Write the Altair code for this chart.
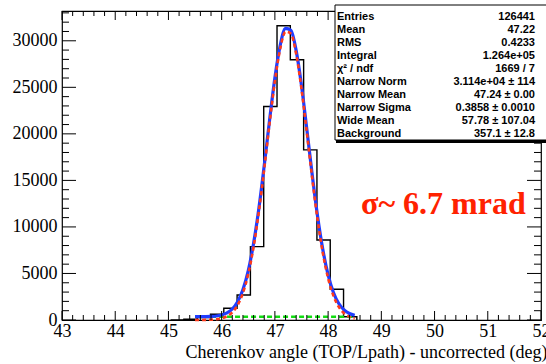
import altair as alt
import pandas as pd

# ---------------- data ----------------
hist_edges = [45.04, 45.29, 45.54, 45.79, 46.04, 46.29, 46.54, 46.79, 47.04,
              47.29, 47.54, 47.79, 48.04, 48.29, 48.54]
hist_counts = [0, 80, 250, 610, 1260, 2690, 7880, 22940, 31610,
               27960, 18280, 8600, 3300, 350, 0]

fit_x = [45.5, 45.6, 45.7, 45.8, 45.9, 46.0, 46.1, 46.2, 46.3, 46.4, 46.5,
         46.6, 46.7, 46.8, 46.9, 47.0, 47.1, 47.2, 47.3, 47.4, 47.5, 47.6,
         47.7, 47.8, 47.9, 48.0, 48.1, 48.2, 48.3, 48.4, 48.5]
fit_total = [360, 365, 370, 390, 430, 540, 760, 1180, 1960, 3270, 5310,
             8240, 12040, 16610, 21480, 26030, 29510, 31330, 31130, 28940, 25180,
             20510, 15660, 11230, 7590, 4840, 2960, 1770, 1080, 700, 510]
fit_narrow = [0, 5, 10, 30, 75, 180, 400, 820, 1600, 2910, 4950,
              7880, 11680, 16250, 21120, 25670, 29150, 30970, 30770, 28580, 24820,
              20150, 15300, 10870, 7230, 4480, 2600, 1410, 720, 340, 150]
bg_x = [45.5, 48.5]
bg_y = [357, 357]

x_major = [43, 44, 45, 46, 47, 48, 49, 50, 51, 52]
x_minor = [round(43 + 0.2 * i, 1) for i in range(46) if i % 5 != 0]
y_major = [0, 5000, 10000, 15000, 20000, 25000, 30000]
y_minor = [v for v in range(0, 34000, 1000) if v % 5000 != 0]

stat_labels = ["Entries", "Mean", "RMS", "Integral", "χ² / ndf", "Narrow Norm",
               "Narrow Mean", "Narrow Sigma", "Wide Mean", "Background"]
stat_values = ["126441", "47.22", "0.4233", "1.264e+05", "1669 / 7",
               "3.114e+04 ± 114", "47.24 ± 0.00", "0.3858 ± 0.0010",
               "57.78 ± 107.04", "357.1 ± 12.8"]

x_title = "Cherenkov angle (TOP/Lpath) - uncorrected (deg)"
note_text = "σ~ 6.7 mrad"

# ---------------- chart ----------------
W, H = 479, 309
xs = alt.Scale(domain=[43, 52], nice=False, zero=False)
ys = alt.Scale(domain=[0, 33200], nice=False, zero=False)

hist_df = pd.DataFrame({"x": hist_edges, "y": hist_counts})
fit_df = pd.DataFrame({"x": fit_x, "total": fit_total, "narrow": fit_narrow})
bg_df = pd.DataFrame({"x": bg_x, "y": bg_y})

xaxis = alt.Axis(values=x_major, ticks=False, domain=False, grid=False, format="d",
                 labelFont="Liberation Serif", labelFontSize=18, labelColor="black",
                 labelPadding=2, labelFlush=False, labelOverlap=False,
                 title=x_title, titleFont="Liberation Serif", titleFontSize=18,
                 titleFontWeight="normal", titleColor="black",
                 titleAnchor="end", titleAlign="right", titleX=485, titleY=37,
                 titleBaseline="alphabetic")
yaxis = alt.Axis(values=y_major, ticks=False, domain=False, grid=False, format="d",
                 labelFont="Liberation Serif", labelFontSize=18, labelColor="black",
                 labelPadding=5, labelFlush=False, labelOverlap=False, title=None)

hist = alt.Chart(hist_df).mark_line(interpolate="step-after", color="black",
                                    strokeWidth=1.4).encode(
    x=alt.X("x:Q", scale=xs, axis=xaxis, title=x_title),
    y=alt.Y("y:Q", scale=ys, axis=yaxis, title=None))

bg = alt.Chart(bg_df).mark_line(color="#11dd11", strokeWidth=2.5,
                                strokeDash=[5, 3]).encode(
    x=alt.X("x:Q", scale=xs, title=x_title), y=alt.Y("y:Q", scale=ys, title=None))

blue = alt.Chart(fit_df).mark_line(color="#1f3cff", strokeWidth=3.2,
                                   interpolate="monotone").encode(
    x=alt.X("x:Q", scale=xs, title=x_title), y=alt.Y("total:Q", scale=ys, title=None))

red = alt.Chart(fit_df).mark_line(color="#ff3a1a", strokeWidth=2.6,
                                  strokeDash=[4, 3],
                                  interpolate="monotone").encode(
    x=alt.X("x:Q", scale=xs, title=x_title), y=alt.Y("narrow:Q", scale=ys, title=None))


def xticks(vals, y0, y1):
    return alt.Chart(pd.DataFrame({"v": vals})).mark_rule(
        color="black", strokeWidth=1).encode(
        x=alt.X("v:Q", scale=xs, title=x_title), y=alt.value(y0), y2=alt.value(y1))


def yticks(vals, x0, x1):
    return alt.Chart(pd.DataFrame({"v": vals})).mark_rule(
        color="black", strokeWidth=1).encode(
        y=alt.Y("v:Q", scale=ys, title=None), x=alt.value(x0), x2=alt.value(x1))


ticks = [
    xticks(x_major, H, H - 9), xticks(x_minor, H, H - 5),
    xticks(x_major, 0, 9), xticks(x_minor, 0, 5),
    yticks(y_major, 0, 14), yticks(y_minor, 0, 7),
    yticks(y_major, W, W - 14), yticks(y_minor, W, W - 7),
]

one = pd.DataFrame({"a": [0]})
box = alt.Chart(one).mark_rect(fill="white", stroke="black", strokeWidth=1).encode(
    x=alt.value(273), x2=alt.value(520), y=alt.value(-6), y2=alt.value(129))
shadow = alt.Chart(one).mark_rule(color="black", strokeWidth=3).encode(
    x=alt.value(274), x2=alt.value(520), y=alt.value(130.5))

stat_lab = alt.Chart(one).mark_text(
    align="left", baseline="alphabetic", lineBreak="\n", lineHeight=13.05,
    font="Liberation Sans", fontSize=11, fontWeight="bold", color="black").encode(
    x=alt.value(275), y=alt.value(8.5), text=alt.value("\n".join(stat_labels)))
stat_val = alt.Chart(one).mark_text(
    align="right", baseline="alphabetic", lineBreak="\n", lineHeight=13.05,
    font="Liberation Sans", fontSize=11, fontWeight="bold", color="black").encode(
    x=alt.value(473), y=alt.value(8.5), text=alt.value("\n".join(stat_values)))

note = alt.Chart(one).mark_text(
    align="left", baseline="alphabetic", font="Liberation Serif", fontSize=32,
    fontWeight="bold", color="#ff2200").encode(
    x=alt.value(299), y=alt.value(203), text=alt.value(note_text))

chart = alt.layer(hist, bg, blue, red, *ticks, box, shadow, stat_lab, stat_val, note).properties(
    width=W, height=H,
    padding={"left": 62, "top": 11, "right": 5, "bottom": 44},
    autosize=alt.AutoSizeParams(type="none"),
    background="white",
).configure_view(stroke="black", strokeWidth=1.2)

chart.save("out.html", embed_options={"renderer": "svg", "actions": False})
